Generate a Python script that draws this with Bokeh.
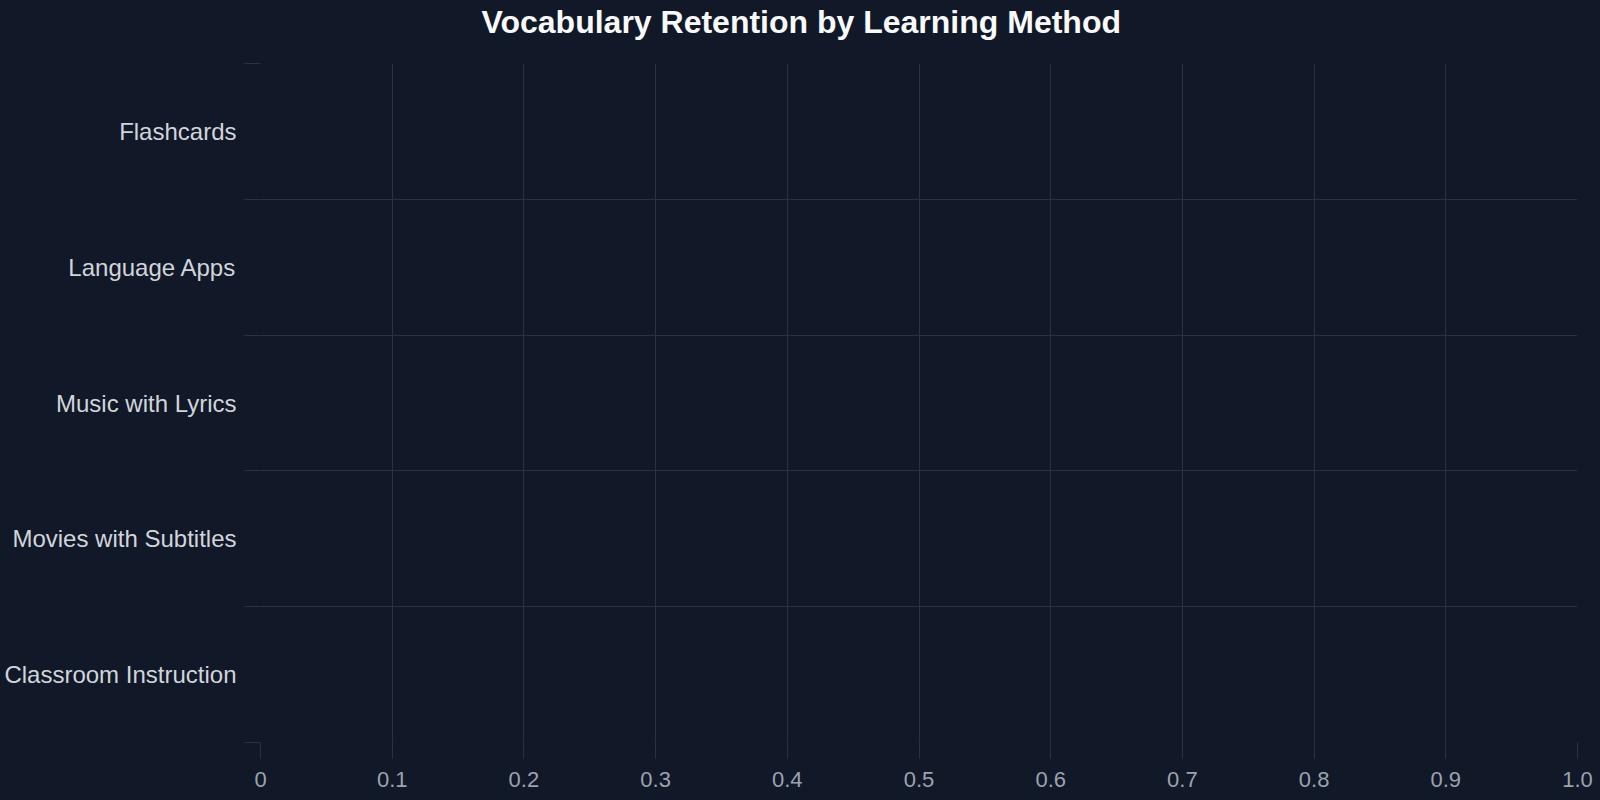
from bokeh.plotting import figure
from bokeh.models import Range1d, FixedTicker, LinearAxis
from bokeh.embed import file_html
from bokeh.resources import INLINE

# ---- data ----
methods = ["Flashcards", "Language Apps", "Music with Lyrics",
           "Movies with Subtitles", "Classroom Instruction"]
retention = [0, 0, 0, 0, 0]          # no bars visible in the reference
x_ticks = [0, 0.1, 0.2, 0.3, 0.4, 0.5, 0.6, 0.7, 0.8, 0.9, 1.0]
x_tick_labels = ["0", "0.1", "0.2", "0.3", "0.4", "0.5", "0.6", "0.7", "0.8", "0.9", "1.0"]
title_text = "Vocabulary Retention by Learning Method"

BG = "#111827"
GRID = "#2a3140"
FONT = "Liberation Sans"

n = len(methods)
# slot centres (top to bottom) and slot boundaries on the y scale
centers = [n - i - 0.5 for i in range(n)]
bounds = list(range(n + 1))

p = figure(width=1600, height=800, output_backend="svg", toolbar_location=None,
           y_range=Range1d(0, n), x_range=Range1d(0, 1),
           min_border_left=260, min_border_right=23, min_border_top=62, min_border_bottom=58)

p.background_fill_color = BG
p.border_fill_color = BG
p.outline_line_color = None

xa = p.below[0]
ya = p.left[0]

# title
p.title.text = title_text
p.title.text_font = FONT
p.title.text_font_size = "32px"
p.title.text_font_style = "bold"
p.title.text_color = "#f9fafb"
p.title.align = "left"
p.title.offset = 221
p.title.vertical_align = "top"
p.title.standoff = 6

# invisible spacer between the title and the plot area
spacer = LinearAxis(ticker=FixedTicker(ticks=[0.5]), axis_line_color=None,
                    major_tick_line_color=None, minor_tick_line_color=None,
                    major_tick_in=0, major_tick_out=15, minor_tick_in=0, minor_tick_out=0,
                    major_label_standoff=0, major_label_overrides={0.5: " "},
                    major_label_text_font_size="1px", major_label_text_color=BG)
p.add_layout(spacer, "above")

# bars (zero length)
p.hbar(y=centers, left=0, right=retention, height=0.6, fill_color="#60a5fa", line_color=None)

# x axis
xa.ticker = FixedTicker(ticks=x_ticks)
xa.major_label_overrides = dict(zip(x_ticks, x_tick_labels))
xa.axis_line_color = None
xa.major_tick_line_color = GRID
xa.major_tick_line_width = 1
xa.major_tick_in = 0
xa.major_tick_out = 16
xa.minor_tick_line_color = None
xa.major_label_standoff = 13
xa.major_label_text_font = FONT
xa.major_label_text_font_size = "22px"
xa.major_label_text_color = "#9ca3af"

# y axis: labels at slot centres, ticks at slot boundaries
ya.ticker = FixedTicker(ticks=centers, minor_ticks=bounds)
ya.major_label_overrides = dict(zip(centers, methods))
ya.axis_line_color = None
ya.major_tick_line_color = None
ya.major_tick_in = 0
ya.major_tick_out = 0
ya.minor_tick_line_color = GRID
ya.minor_tick_line_width = 1
ya.minor_tick_in = 0
ya.minor_tick_out = 16
ya.major_label_standoff = 8
ya.major_label_text_font = FONT
ya.major_label_text_font_size = "24px"
ya.major_label_text_color = "#d1d5db"

# grids
p.xgrid.grid_line_color = GRID
p.xgrid.grid_line_width = 1
p.ygrid.ticker = FixedTicker(ticks=bounds)
p.ygrid.grid_line_color = GRID
p.ygrid.grid_line_width = 1

html = file_html(p, INLINE)
html = html.replace("</head>", "<style>html,body{margin:0;padding:0;background:%s;overflow:hidden;}</style></head>" % BG, 1)
open("out.html", "w").write(html)
